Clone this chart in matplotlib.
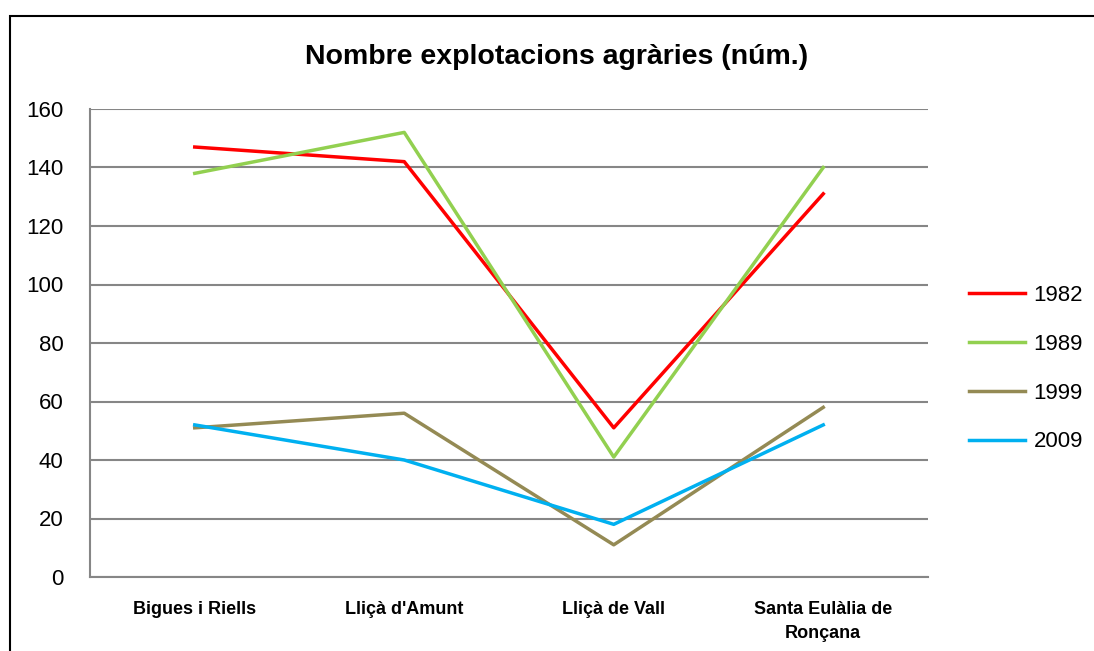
import matplotlib.pyplot as plt
from matplotlib.patches import Rectangle

municipis = ["Bigues i Riells", "Lliçà d'Amunt", "Lliçà de Vall", "Santa Eulàlia de\nRonçana"]
anys = ["1982", "1989", "1999", "2009"]
v1982 = [147, 142, 51, 131]
v1989 = [138, 152, 41, 140]
v1999 = [51, 56, 11, 58]
v2009 = [52, 40, 18, 52]
colors = ["#FF0000", "#92D050", "#948A54", "#00B0F0"]

plt.rcParams["font.family"] = ["Liberation Sans", "DejaVu Sans"]

fig = plt.figure(figsize=(10.94, 6.51), dpi=100)
ax = fig.add_axes([90 / 1094, 1 - 577 / 651, 838 / 1094, 468 / 651])

# marc del gràfic (només es veuen les vores esquerra i superior)
fig.patches.append(Rectangle((10 / 1094, -0.1), 1.2, 1 - 16 / 651 + 0.1,
                             transform=fig.transFigure, fill=False,
                             edgecolor="black", linewidth=1.5))

x = range(len(municipis))
for vals, lab, c in zip([v1982, v1989, v1999, v2009], anys, colors):
    ax.plot(x, vals, color=c, linewidth=2.5, label=lab)

ax.set_xlim(-0.5, len(municipis) - 0.5)
ax.set_ylim(0, 160)
ax.set_yticks(range(0, 161, 20))
ax.yaxis.grid(True, color="#868686", linewidth=1.5)
ax.set_axisbelow(True)
for s in ["top", "right"]:
    ax.spines[s].set_visible(False)
for s in ["left", "bottom"]:
    ax.spines[s].set_color("#868686")
    ax.spines[s].set_linewidth(1.5)
ax.tick_params(axis="y", length=0, labelsize=16, pad=19)
ax.tick_params(axis="x", length=0, pad=17)
ax.set_xticks(list(x))
ax.set_xticklabels(municipis, fontsize=13, fontweight="bold", va="top",
                   linespacing=1.6)

fig.text(557 / 1094, 1 - 57 / 651, "Nombre explotacions agràries (núm.)",
         ha="center", va="center", fontsize=20.5, fontweight="bold")

ax.legend(loc="center left", bbox_to_anchor=(1.025, 0.445), frameon=False,
          fontsize=16, handlelength=2.5, labelspacing=1.25, handletextpad=0.4)

fig.savefig("out.png", dpi=100)
